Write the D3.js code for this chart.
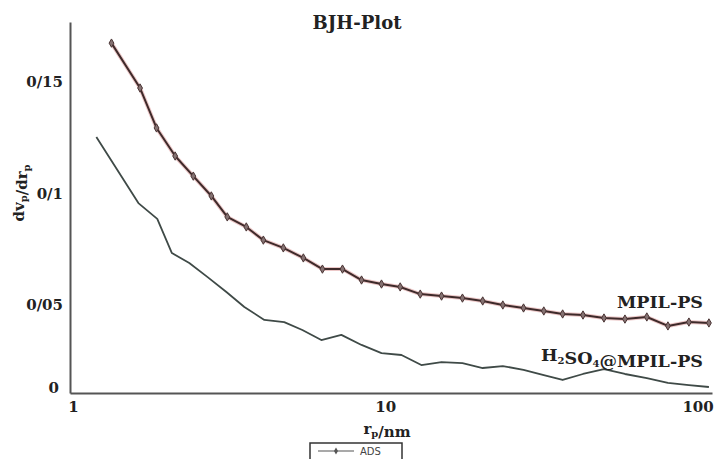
<!DOCTYPE html>
<html>
<head>
<meta charset="utf-8">
<script src="https://cdn.jsdelivr.net/npm/d3@7"></script>
<style>
  body { margin: 0; background: #fff; }
  svg { display: block; }
</style>
</head>
<body>
<div id="chart"></div>
<script>
// pore radius (nm) and dVp/drp for each sample
var rMpil = [1.35, 1.66, 1.87, 2.14, 2.44, 2.78, 3.12, 3.58, 4.05, 4.68, 5.41, 6.21, 7.18, 8.24, 9.52,
  10.9, 12.6, 14.7, 17.1, 19.8, 22.9, 26.6, 30.8, 35.3, 40.9, 47.6, 55.4, 64.9, 75.6, 88.0, 101.7];
var vMpil = [0.1675, 0.1473, 0.1294, 0.1168, 0.1078, 0.0989, 0.0895, 0.0850, 0.0791, 0.0756, 0.0711,
  0.0661, 0.0661, 0.0612, 0.0594, 0.0581, 0.0549, 0.0540, 0.0531, 0.0518, 0.0500, 0.0483, 0.0466,
  0.0449, 0.0443, 0.0426, 0.0420, 0.0432, 0.0381, 0.0403, 0.0398];

var rAcid = [1.21, 1.64, 1.88, 2.09, 2.37, 2.70, 3.10, 3.53, 4.08, 4.71, 5.37, 6.16, 7.12, 8.24, 9.52,
  11.0, 12.7, 14.7, 17.1, 19.8, 22.9, 26.6, 30.8, 35.3, 40.9, 47.6, 55.4, 64.9, 75.6, 88.0, 101.7];
var vAcid = [0.1253, 0.0957, 0.0886, 0.0733, 0.0688, 0.0626, 0.0558, 0.0489, 0.0415, 0.0403, 0.0358,
  0.0301, 0.0330, 0.0273, 0.0227, 0.0216, 0.0159, 0.0176, 0.0170, 0.0142, 0.0153, 0.0131, 0.0102,
  0.0074, 0.0108, 0.0136, 0.0108, 0.0085, 0.0057, 0.0045, 0.0034];

var xTicks = [1, 10, 100];
var yTicks = [0, 0.05, 0.1, 0.15];

var serif = "'DejaVu Serif', 'Liberation Serif', serif";
var width = 721, height = 459;
var mLeft = 70, mRight = 712, mTop = 22, mBottom = 393;

var svg = d3.select("#chart").append("svg")
  .attr("width", width)
  .attr("height", height);

var x = d3.scaleLog()
  .domain([1, 104])
  .range([mLeft, mRight]);

// the original figure's value axis is not evenly spaced below 0.05
var y = d3.scaleLinear()
  .domain([0, 0.05, 0.15, 0.177])
  .range([mBottom, 305, 82, mTop]);

function styleLbl(sel, size) {
  sel.style("font-family", serif)
    .style("font-weight", "bold")
    .style("font-size", size + "px")
    .attr("fill", "#222");
}

// axes, no tick marks
var gx = svg.append("g")
  .attr("transform", "translate(0," + mBottom + ")")
  .call(d3.axisBottom(x).tickValues(xTicks).tickSize(0).tickPadding(8).tickFormat(d3.format("d")));
gx.select(".domain").attr("stroke", "#555").attr("stroke-width", 2);
styleLbl(gx.selectAll("text"), 15);
gx.selectAll(".tick").filter(function(d) { return d == 1; }).select("text").attr("dx", 3);
gx.selectAll(".tick").filter(function(d) { return d == 10; }).select("text").attr("dx", -3);
gx.selectAll(".tick").filter(function(d) { return d == 100; }).select("text").attr("dx", -9);

var gy = svg.append("g")
  .attr("transform", "translate(" + mLeft + ",0)")
  .call(d3.axisLeft(y).tickValues(yTicks).tickSize(0).tickPadding(7)
    .tickFormat(function(d) { return String(d).replace("0.", "0/"); }));
gy.select(".domain").attr("stroke", "#555").attr("stroke-width", 2);
styleLbl(gy.selectAll("text"), 15);
gy.selectAll(".tick").filter(function(d) { return d == 0; }).select("text").attr("dy", "-0.05em").attr("x", -11);

// title
styleLbl(svg.append("text")
  .attr("x", 357).attr("y", 29)
  .attr("text-anchor", "middle")
  .text("BJH-Plot"), 18);

// adds a lowered, smaller tspan
function sub(t, s) {
  t.append("tspan").attr("dy", 3).style("font-size", "10px").text(s);
  t.append("tspan").attr("dy", -3).text("");
}

// axis labels
var yl = svg.append("text")
  .attr("transform", "translate(24,193) rotate(-90)")
  .attr("text-anchor", "middle");
styleLbl(yl, 15);
yl.append("tspan").text("dv");
sub(yl, "p");
yl.append("tspan").text("/dr");
sub(yl, "p");

var xl = svg.append("text")
  .attr("x", 387).attr("y", 434)
  .attr("text-anchor", "middle");
styleLbl(xl, 15);
xl.append("tspan").text("r");
sub(xl, "p");
xl.append("tspan").text("/nm");

var line = d3.line()
  .x(function(d) { return x(d[0]); })
  .y(function(d) { return y(d[1]); });

var mpil = d3.zip(rMpil, vMpil);
var acid = d3.zip(rAcid, vAcid);

// lower curve
svg.append("path")
  .datum(acid)
  .attr("fill", "none")
  .attr("stroke", "#3f4a47")
  .attr("stroke-width", 1.8)
  .attr("stroke-linejoin", "round")
  .attr("d", line);

// upper curve, faint red halo then the dark line
svg.append("path")
  .datum(mpil)
  .attr("fill", "none")
  .attr("stroke", "#ecc8c8")
  .attr("stroke-width", 4)
  .attr("stroke-linejoin", "round")
  .attr("d", line);
svg.append("path")
  .datum(mpil)
  .attr("fill", "none")
  .attr("stroke", "#3e2a2a")
  .attr("stroke-width", 2)
  .attr("stroke-linejoin", "round")
  .attr("d", line);

var diamond = d3.symbol().type(d3.symbolDiamond).size(20);
svg.selectAll(".pt")
  .data(mpil)
  .enter().append("path")
  .attr("class", "pt")
  .attr("d", diamond)
  .attr("transform", function(d) { return "translate(" + x(d[0]) + "," + y(d[1]) + ")"; })
  .attr("fill", "#857272")
  .attr("stroke", "#4a3434")
  .attr("stroke-width", 1);

// series names
styleLbl(svg.append("text")
  .attr("x", 703).attr("y", 308)
  .attr("text-anchor", "end")
  .text("MPIL-PS"), 17.5);

var sl = svg.append("text")
  .attr("x", 703).attr("y", 361)
  .attr("text-anchor", "end");
styleLbl(sl, 17.5);
sl.append("tspan").text("H");
sub(sl, "2");
sl.append("tspan").text("SO");
sub(sl, "4");
sl.append("tspan").text("@MPIL-PS");

// legend box, cut off at the bottom edge
var lg = svg.append("g").attr("transform", "translate(310,443)");
lg.append("rect")
  .attr("width", 92).attr("height", 24)
  .attr("fill", "#fff")
  .attr("stroke", "#333")
  .attr("stroke-width", 1.5);
lg.append("line")
  .attr("x1", 8).attr("x2", 44).attr("y1", 8).attr("y2", 8)
  .attr("stroke", "#555").attr("stroke-width", 1.2);
lg.append("path")
  .attr("d", d3.symbol().type(d3.symbolDiamond).size(14))
  .attr("transform", "translate(26,8)")
  .attr("fill", "#555");
lg.append("text")
  .attr("x", 50).attr("y", 12)
  .style("font-family", "'DejaVu Sans', sans-serif")
  .style("font-size", "10px")
  .attr("fill", "#444")
  .text("ADS");
</script>
</body>
</html>
